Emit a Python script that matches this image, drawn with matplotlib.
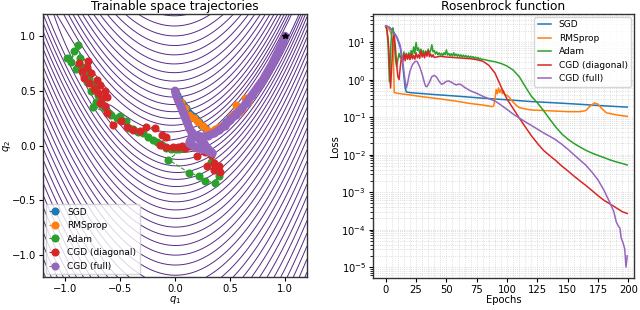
import numpy as np
import matplotlib
matplotlib.use('Agg')
import matplotlib.pyplot as plt
from matplotlib.ticker import MultipleLocator, LogLocator, NullFormatter

#==============================================================================
# data
#==============================================================================

labels = ['SGD', 'RMSprop', 'Adam', 'CGD (diagonal)', 'CGD (full)']
colors = ['tab:blue', 'tab:orange', 'tab:green', 'tab:red', 'tab:purple']

# trajectories in (q1, q2)
sgd_q1 = [0.0, 0.02, 0.04, 0.06, 0.08, 0.10, 0.12, 0.14, 0.16, 0.18, 0.20, 0.22, 0.24, 0.26, 0.28, 0.30, 0.32, 0.35, 0.38, 0.42, 0.46, 0.50, 0.54]
sgd_q2 = [0.50, 0.46, 0.42, 0.39, 0.36, 0.34, 0.31, 0.29, 0.27, 0.25, 0.23, 0.21, 0.19, 0.17, 0.15, 0.13, 0.12, 0.12, 0.14, 0.17, 0.21, 0.25, 0.29]

rms_q1 = [0.0, 0.05, 0.09, 0.13, 0.17, 0.21, 0.25, 0.29, 0.32, 0.36, 0.40, 0.44, 0.48, 0.52, 0.55, 0.58, 0.61, 0.64, 0.66, 0.69]
rms_q2 = [0.50, 0.40, 0.34, 0.28, 0.25, 0.21, 0.18, 0.14, 0.12, 0.15, 0.17, 0.19, 0.22, 0.28, 0.37, 0.31, 0.33, 0.43, 0.40, 0.45]

adam_q1 = [-0.98, -0.92, -0.95, -0.88, -0.86, -0.84, -0.90, -0.82, -0.80, -0.78, -0.74, -0.76, -0.72,
           -0.70, -0.68, -0.72, -0.66, -0.64, -0.75, -0.60, -0.58, -0.53, -0.50, -0.45, -0.42, -0.38, -0.34,
           -0.29, -0.25, -0.20, -0.16, -0.12, -0.08, -0.04, 0.0, 0.04, 0.08, -0.06, 0.13, 0.22, 0.27, 0.36,
           0.40, 0.38, 0.33]
adam_q2 = [0.80, 0.86, 0.76, 0.92, 0.80, 0.72, 0.70, 0.66, 0.58, 0.62, 0.56, 0.50, 0.52,
           0.46, 0.43, 0.40, 0.38, 0.34, 0.35, 0.30, 0.28, 0.25, 0.27, 0.22, 0.16, 0.15, 0.12,
           0.11, 0.08, 0.05, 0.03, 0.006, -0.02, -0.03, -0.03, -0.03, -0.02, -0.13, -0.25, -0.28, -0.32, -0.34,
           -0.28, -0.22, -0.15]

cgdd_q1 = [-0.87, -0.79, -0.85, -0.80, -0.83, -0.76, -0.78, -0.71, -0.74, -0.68, -0.70, -0.64, -0.66, -0.62,
           -0.68, -0.64, -0.62, -0.56, -0.49, -0.44, -0.38, -0.32, -0.26, -0.18, -0.12, -0.08, -0.14, -0.08,
           -0.02, 0.03, 0.06, 0.09, 0.14, 0.20, 0.27, 0.33, 0.35, 0.29, 0.35, 0.40, 0.41]
cgdd_q2 = [0.75, 0.77, 0.68, 0.72, 0.62, 0.66, 0.57, 0.60, 0.52, 0.55, 0.48, 0.50, 0.43, 0.44,
           0.39, 0.36, 0.30, 0.19, 0.22, 0.17, 0.14, 0.13, 0.17, 0.16, 0.10, 0.08, 0.006, -0.01,
           -0.01, -0.01, 0.0, -0.02, 0.0, -0.10, -0.06, -0.09, -0.16, -0.19, -0.22, -0.19, -0.24]

cgdf_q1 = [0.0, 0.01, 0.03, 0.05, 0.07, 0.09, 0.11, 0.13, 0.15, 0.17, 0.14, 0.13, 0.16, 0.20, 0.24, 0.28, 0.32,
           0.34, 0.30, 0.26, 0.22, 0.20, 0.25, 0.30, 0.35, 0.40, 0.45, 0.50, 0.55, 0.60, 0.65, 0.70, 0.75,
           0.80, 0.84, 0.88, 0.92, 0.95, 0.98, 1.0]
cgdf_q2 = [0.50, 0.46, 0.41, 0.36, 0.31, 0.26, 0.21, 0.16, 0.12, 0.08, 0.05, 0.02, 0.0, -0.02, -0.03, -0.04, -0.06,
           -0.07, -0.03, 0.02, 0.06, 0.09, 0.08, 0.09, 0.11, 0.14, 0.18, 0.23, 0.28, 0.33, 0.39, 0.46, 0.53,
           0.60, 0.67, 0.74, 0.82, 0.88, 0.94, 1.0]

# loss curves (epoch, value)
sgd_ep = [0, 3, 6, 9, 12, 14, 15, 16, 17, 20, 40, 60, 80, 100, 120, 140, 160, 180, 199]
sgd_loss = [27, 25, 20, 14, 7, 2.5, 1.2, 0.6, 0.47, 0.45, 0.40, 0.36, 0.32, 0.29, 0.26, 0.24, 0.22, 0.20, 0.185]

rms_ep = [0, 1, 2, 3, 4, 5, 6, 7, 10, 20, 30, 40, 50, 60, 70, 80, 88, 89, 90, 91, 92, 93, 94, 95, 96, 97, 98,
          100, 102, 105, 108, 110, 115, 120, 130, 140, 150, 160, 165, 168, 172, 175, 178, 182, 190, 199]
rms_loss = [27, 26, 24, 21, 18, 15, 10, 0.45, 0.43, 0.39, 0.35, 0.32, 0.29, 0.26, 0.23, 0.21, 0.19, 0.2, 0.3,
            0.55, 0.42, 0.6, 0.45, 0.55, 0.42, 0.5, 0.4, 0.38, 0.33, 0.25, 0.2, 0.18, 0.165, 0.155, 0.15,
            0.145, 0.14, 0.14, 0.15, 0.19, 0.24, 0.22, 0.17, 0.13, 0.115, 0.105]

adam_ep = list(range(0, 81)) + [85, 90, 95, 100, 105, 110, 115, 120, 125, 130, 135, 140, 145, 150, 155,
                                160, 165, 170, 175, 180, 185, 190, 195, 199]
adam_loss = [27, 22, 8, 0.87, 6, 21, 24, 10, 3.5, 2.2, 3.5, 5, 3.8, 4.5, 3.5, 5.5, 4, 4.8, 3.6, 5.2,
             4.2, 6, 4.5, 7.5, 5, 9.8, 6, 7, 5, 6.5, 4.8, 6, 4.5, 5.8, 4.6, 6.5, 5, 6, 8.5, 5.5,
             6, 4.8, 5.5, 4.6, 5.2, 4.5, 5, 4.4, 5.2, 4.6, 6.2, 4.5, 5, 4.3, 4.9, 4.2, 5.2, 4.3, 4.8, 4.2,
             4.7, 4.1, 4.6, 4.0, 4.5, 4.0, 4.4, 3.9, 4.3, 3.9, 4.2, 3.8, 4.1, 3.7, 4.0, 3.6, 3.9, 3.5, 3.7, 3.4,
             3.5, 3.2, 3.0, 2.7, 2.3, 1.8, 1.2, 0.65, 0.36, 0.24, 0.15, 0.09, 0.055, 0.036, 0.026, 0.02,
             0.016, 0.013, 0.011, 0.0095, 0.0083, 0.0072, 0.0064, 0.0058, 0.0053]

cgdd_ep = list(range(0, 41)) + [45, 50, 55, 60, 65, 70, 75, 80, 85, 90, 95, 100, 105, 110, 115, 120, 125,
                                130, 135, 140, 145, 150, 155, 160, 165, 170, 175, 180, 185, 190, 195, 199]
cgdd_loss = [27, 20, 12, 3, 0.6, 2.5, 12, 16, 7, 2.5, 1.2, 1.0, 2.2, 4.2, 3, 4.8, 3.2, 5, 3.5, 4.6,
             3.4, 4.8, 3.6, 4.4, 3.5, 5.2, 3.8, 4.6, 3.7, 5.8, 4, 5, 3.8, 5.5, 4.2, 6, 4.1, 4.8, 4, 4.6, 3.9,
             4.2, 4.0, 3.9, 3.8, 3.7, 3.6, 3.4, 3.1, 2.4, 1.5, 0.65, 0.3, 0.17, 0.095, 0.055, 0.032, 0.02,
             0.013, 0.0095, 0.007, 0.005, 0.0037, 0.0027, 0.002, 0.0015, 0.0011, 0.0008, 0.0006, 0.00048,
             0.00038, 0.0003, 0.00027]

cgdf_ep = [0, 2, 4, 6, 8, 10, 12, 14, 15, 16, 17, 18, 19, 20, 22, 24, 25, 26, 28, 30, 32, 33, 34, 36, 38, 40,
           42, 44, 46, 48, 50, 52, 54, 56, 58, 60, 62, 65, 70, 75, 80, 85, 90, 95, 100, 105, 110, 115, 120,
           125, 130, 135, 140, 145, 150, 155, 160, 165, 170, 175, 180, 185, 188, 190, 192, 193, 194, 195,
           196, 197, 198, 199]
cgdf_loss = [27, 26, 22, 18, 15, 12, 8, 3, 1.6, 0.9, 0.6, 0.8, 1.2, 1.7, 2.5, 3.0, 3.1, 3.0, 2.2, 1.4, 0.8,
             0.66, 0.65, 0.85, 1.2, 1.3, 1.15, 0.9, 0.75, 0.8, 0.9, 0.92, 0.85, 0.78, 0.72, 0.76, 0.74, 0.62,
             0.5, 0.43, 0.36, 0.31, 0.27, 0.21, 0.16, 0.12, 0.095, 0.075, 0.06, 0.048, 0.038, 0.031, 0.025,
             0.019, 0.014, 0.01, 0.0072, 0.0052, 0.0034, 0.0021, 0.0011, 0.0005, 0.0003, 0.00016, 0.00012,
             0.00011, 0.00006, 0.00005, 0.00004, 0.00003, 0.00001, 0.00002]

epoch_ticks = [0, 25, 50, 75, 100, 125, 150, 175, 200]

#==============================================================================

plt.rcParams['font.size'] = 7.2

fig = plt.figure(figsize=(6.4, 3.1), dpi=100)
ax1 = fig.add_axes([43/640, 33/310, 264/640, 263/310])
ax2 = fig.add_axes([373/640, 32/310, 261/640, 264/310])

# left: contour of the Rosenbrock function + trajectories
g = np.linspace(-1.2, 1.2, 400)
X, Y = np.meshgrid(g, g)
Z = (1 - X)**2 + 100*(Y - X**2)**2
levels = (np.arange(3, 34) * 0.274)**3
ax1.contour(X, Y, Z, levels=levels, colors='#582a86', linewidths=0.7)

trajs = [(sgd_q1, sgd_q2), (rms_q1, rms_q2), (adam_q1, adam_q2), (cgdd_q1, cgdd_q2), (cgdf_q1, cgdf_q2)]
for n, (q1, q2) in enumerate(trajs):
    if n == 4:
        ax1.plot(q1, q2, '-', color=colors[n], lw=6, solid_capstyle='round')
    if n == 0:
        ax1.plot(q1, q2, '-', color=colors[n], lw=4)
    ax1.plot(q1, q2, 'o--', color=colors[n], ms=4.8, lw=0.8, label=labels[n])
ax1.plot(1, 1, 'k*', ms=4)

ax1.set_xlim(-1.2, 1.2)
ax1.set_ylim(-1.2, 1.2)
ax1.xaxis.set_major_locator(MultipleLocator(0.5))
ax1.yaxis.set_major_locator(MultipleLocator(0.5))
ax1.set_xlabel('$q_1$')
ax1.set_ylabel('$q_2$')
ax1.xaxis.set_label_coords(0.5, -0.065)
ax1.yaxis.set_label_coords(-0.115, 0.5)
ax1.set_title('Trainable space trajectories', fontsize=8.7, pad=3)
ax1.legend(loc='lower left', fontsize=6.5, handlelength=1.2, borderaxespad=0.3)

# right: loss curves
series = [(sgd_ep, sgd_loss), (rms_ep, rms_loss), (adam_ep, adam_loss), (cgdd_ep, cgdd_loss), (cgdf_ep, cgdf_loss)]
for n, (ep, loss) in enumerate(series):
    ax2.plot(ep, loss, color=colors[n], lw=1.1, label=labels[n])
ax2.set_yscale('log')
ax2.set_xlim(-10.5, 204.6)
ax2.set_ylim(10**-5.29, 10**1.75)
ax2.set_xticks(epoch_ticks)
ax2.set_xticks(range(0, 205, 5), minor=True)
ax2.yaxis.set_minor_locator(LogLocator(base=10, subs=np.arange(2, 10)*1.0, numticks=20))
ax2.yaxis.set_minor_formatter(NullFormatter())
ax2.grid(True, which='both', linestyle=':', color='lightgrey', linewidth=0.6)
ax2.tick_params(axis='x', which='minor', length=0)
ax2.set_xlabel('Epochs')
ax2.set_ylabel('Loss')
ax2.xaxis.set_label_coords(0.5, -0.065)
ax2.yaxis.set_label_coords(-0.125, 0.5)
ax2.set_title('Rosenbrock function', fontsize=8.7, pad=3)
ax2.legend(loc='upper right', fontsize=6.5, handlelength=1.5, borderaxespad=0.3)

for ax in (ax1, ax2):
    ax.tick_params(which='major', length=3, pad=2)
    for s in ax.spines.values():
        s.set_linewidth(1.0)
        s.set_color('#333333')

plt.savefig('out.png', dpi=100)
